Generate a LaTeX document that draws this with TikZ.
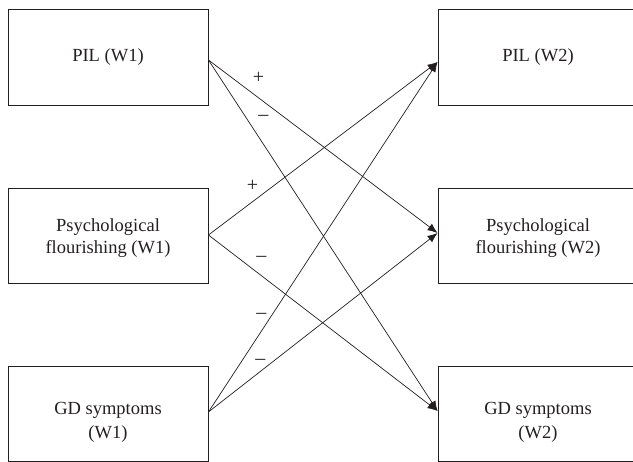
\documentclass[tikz,border=0pt]{standalone}
\usepackage{fontspec}
\setmainfont{Liberation Serif}
\usetikzlibrary{arrows.meta}
\definecolor{ink}{RGB}{35,31,32}
\begin{document}
\begin{tikzpicture}[x=1pt,y=1pt,
  box/.style={draw=ink, line width=0.9pt, minimum width=200pt, minimum height=96pt, inner sep=0pt},
  lbl/.style={font=\fontsize{18.5}{22}\selectfont, align=center, text=ink, inner sep=0pt},
  lbltall/.style={font=\fontsize{18.5}{24}\selectfont, align=center, text=ink, inner sep=0pt},
  conn/.style={draw=ink, line width=0.7pt, -{Latex[length=10pt,width=8pt]}},
  sign/.style={font=\fontsize{20}{20}\selectfont, text=ink, inner sep=0pt}]
\useasboundingbox (0,0) rectangle (633,462);
\clip (0,0) rectangle (633,462);
% boxes
\node[box] (L1) at (108,405) {};
\node[box] (R1) at (538,405) {};
\node[box, minimum height=95pt] (L2) at (108,226.5) {};
\node[box, minimum height=95pt] (R2) at (538,226.5) {};
\node[box, minimum height=95pt] (L3) at (108,48.5) {};
\node[box, minimum height=95pt] (R3) at (538,48.5) {};
% texts
\node[lbl] (L1t) at (L1.center) {PIL (W1)};
\node[lbl] (R1t) at (R1.center) {PIL (W2)};
\node[lbl] (L2t) at ([yshift=-3pt]L2.center) {Psychological\\flourishing (W1)};
\node[lbl] (R2t) at ([yshift=-3pt]R2.center) {Psychological\\flourishing (W2)};
\node[lbltall] (L3t) at ([yshift=-9pt]L3.center) {GD symptoms\\(W1)};
\node[lbltall] (R3t) at ([yshift=-9pt]R3.center) {GD symptoms\\(W2)};
% connectors
\coordinate (a1) at ([yshift=-3pt]L1.east);
\coordinate (a2) at ([yshift=0.5pt]L2.east);
\coordinate (a3) at ([yshift=1.5pt]L3.east);
\coordinate (b1) at ([yshift=-5pt]R1.west);
\coordinate (b2) at ([yshift=2.5pt]R2.west);
\coordinate (b3) at ([yshift=2.5pt]R3.west);
\draw[conn] (a1) -- node[sign, pos=0.218, yshift=19.8pt] (s1) {+} (b2);
\draw[conn] (a1) -- node[sign, pos=0.240, yshift=26pt] (s2) {–} (b3);
\draw[conn] (a2) -- node[sign, pos=0.192, yshift=15.8pt] (s3) {+} (b1);
\draw[conn] (a2) -- node[sign, pos=0.231, yshift=16.7pt] (s4) {–} (b3);
\draw[conn] (a3) -- node[sign, pos=0.231, yshift=15pt] (s5) {–} (b1);
\draw[conn] (a3) -- node[sign, pos=0.227, yshift=9.4pt] (s6) {–} (b2);
\end{tikzpicture}
\end{document}
